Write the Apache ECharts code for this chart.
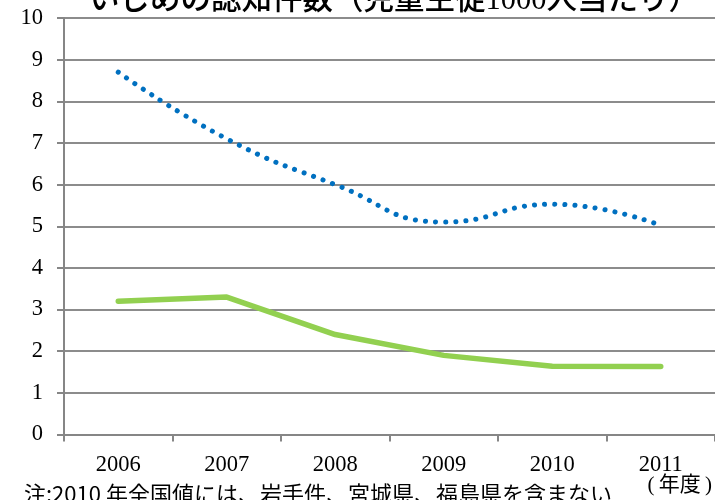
<!DOCTYPE html>
<html><head><meta charset="utf-8">
<script src="https://cdn.jsdelivr.net/npm/echarts@6/dist/echarts.min.js"></script>
<style>html,body{margin:0;padding:0;background:#fff}#c{width:715px;height:500px}</style>
</head><body><div id="c"></div>
<script>
const years = ['2006','2007','2008','2009','2010','2011'];
const seriesBlue = [8.7, 7.1, 6.0, 5.1, 5.53, 5.02];
const seriesGreen = [3.2, 3.3, 2.4, 1.9, 1.64, 1.63];
const yTicks = [0,1,2,3,4,5,6,7,8,9,10];
const titleText = 'いじめの認知件数（児童生徒1000人当たり）';
const noteText = '注:2010 年全国値には、岩手件、宮城県、福島県を含まない';
const unitText = '(\u2009年度\u2009)';

const serif = '"Liberation Serif", "Noto Sans CJK JP", serif';
const chart = echarts.init(document.getElementById('c'));
chart.setOption({
  animation: false,
  backgroundColor: '#fff',
  grid: { left: 64, right: -6, top: 18, bottom: 65.5, containLabel: false },
  xAxis: {
    type: 'category', data: years, boundaryGap: true,
    axisLine: { lineStyle: { color: '#868686', width: 2 } },
    axisTick: { show: true, length: 7, lineStyle: { color: '#868686', width: 2 } },
    axisLabel: { color: '#000', fontFamily: serif, fontSize: 22.5, margin: 19 }
  },
  yAxis: {
    type: 'value', min: yTicks[0], max: yTicks[yTicks.length-1], interval: 1,
    axisLine: { show: true, lineStyle: { color: '#868686', width: 2 } },
    axisTick: { show: true, length: 7, lineStyle: { color: '#868686', width: 2 } },
    splitLine: { lineStyle: { color: '#8c8c8c', width: 2 } },
    axisLabel: { color: '#000', fontFamily: serif, fontSize: 22.5, margin: 21 }
  },
  series: [
    { type: 'line', data: seriesBlue, smooth: 0.5, showSymbol: false,
      lineStyle: { color: '#0070C0', width: 5, type: [0.1, 10], cap: 'round' } },
    { type: 'line', data: seriesGreen, smooth: false, showSymbol: false,
      lineStyle: { color: '#92D050', width: 5.5, cap: 'round', join: 'round' } }
  ],
  graphic: [
    { type: 'text', left: 89, top: -14,
      style: { text: titleText, font: '500 30.5px "Liberation Serif", "Noto Sans CJK JP", sans-serif', fill: '#000' } },
    { type: 'text', left: 24, top: 483,
      style: { text: noteText, font: '22px "Noto Sans CJK JP", sans-serif', fill: '#000' } },
    { type: 'text', right: 3, top: 475,
      style: { text: unitText, font: '21px "Liberation Serif", "Noto Sans CJK JP", serif', fill: '#000' } }
  ]
});
</script></body></html>
